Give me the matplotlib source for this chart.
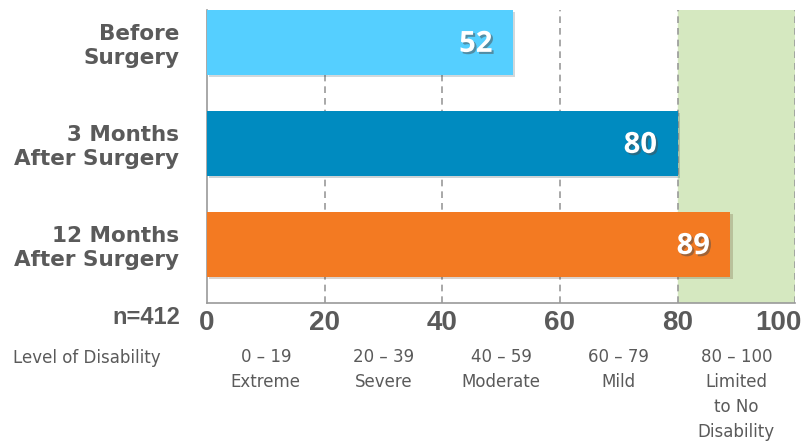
import matplotlib
matplotlib.use("Agg")
import matplotlib.pyplot as plt
import matplotlib.patheffects as pe
from matplotlib.transforms import blended_transform_factory

# data
groups = ["Before\nSurgery", "3 Months\nAfter Surgery", "12 Months\nAfter Surgery"]
scores = [52, 80, 89]
bar_colors = ["#55cfff", "#008bc0", "#f37a22"]
ticks = [0, 20, 40, 60, 80, 100]
level_mid = [10, 30, 50, 70, 90]
level_labels = ["0 – 19\nExtreme", "20 – 39\nSevere", "40 – 59\nModerate",
                "60 – 79\nMild", "80 – 100\nLimited\nto No\nDisability"]
n_label = "n=412"

gray = "#5a5a5a"

fig = plt.figure(figsize=(8.04, 4.45), dpi=100)
ax = fig.add_axes([0.2575, 0.319, 0.7315, 0.6585])

# green "limited to no disability" zone
ax.axvspan(80, 100, color="#d5e8c0", zorder=0)

# dashed grid
for t in ticks[1:]:
    ax.axvline(t, color="#9a9a9a", lw=1.2, ls=(0, (4, 3)), zorder=1)

y = list(range(len(groups)))
bars = ax.barh(y, scores, height=0.64, color=bar_colors, zorder=3)
for b in bars:
    b.set_path_effects([pe.SimplePatchShadow(offset=(1.5, -1.5), alpha=0.2), pe.Normal()])

for yi, v in zip(y, scores):
    ax.text(v - 3.5, yi + 0.02, str(v), ha="right", va="center", color="white",
            fontsize=21, fontweight="bold", family="Open Sans", zorder=4,
            path_effects=[pe.withSimplePatchShadow(offset=(1.5, -1.5), alpha=0.5)])

ax.set_xlim(0, 100)
ax.set_ylim(2.58, -0.32)
ax.set_xticks(ticks)
# last label is drawn by hand a bit to the left so it stays inside the figure
ax.set_xticklabels([str(t) for t in ticks[:-1]] + [""], fontsize=20, fontweight="bold",
                   color=gray, family="Liberation Sans")
ax.annotate(str(ticks[-1]), xy=(ticks[-1], 0), xycoords=("data", "axes fraction"),
            xytext=(-12, -5), textcoords="offset points", ha="center", va="top",
            fontsize=20, fontweight="bold", color=gray, family="Liberation Sans")
ax.set_yticks(y)
ax.set_yticklabels(groups, fontsize=15.5, fontweight="bold", color=gray,
                   family="DejaVu Sans", linespacing=1.2)
ax.tick_params(axis="both", length=0)
ax.tick_params(axis="x", pad=5)
ax.tick_params(axis="y", pad=20)

for s in ["top", "right"]:
    ax.spines[s].set_visible(False)
ax.spines["left"].set_color("#9a9a9a")
ax.spines["bottom"].set_color("#9a9a9a")
ax.spines["left"].set_linewidth(1.2)
ax.spines["bottom"].set_linewidth(1.2)

fig.text(180 / 804, 1 - 317 / 445, n_label, ha="right", va="center",
         fontsize=17, fontweight="bold", color=gray, family="Liberation Sans")
fig.text(13 / 804, 1 - 358 / 445, "Level of Disability", ha="left", va="center",
         fontsize=12, color=gray, family="DejaVu Sans")

tr = blended_transform_factory(ax.transData, fig.transFigure)
for m, lab in zip(level_mid, level_labels):
    ax.text(m, 1 - 348 / 445, lab, ha="center", va="top", transform=tr,
            fontsize=12, color=gray, family="DejaVu Sans", linespacing=1.5)

fig.savefig("out.png", dpi=100)
